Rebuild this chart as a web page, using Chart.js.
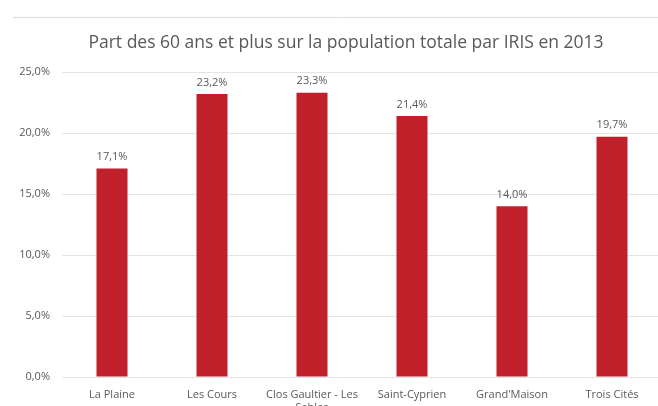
<!DOCTYPE html>
<html>
<head>
<meta charset="utf-8">
<script src="https://cdn.jsdelivr.net/npm/chart.js@4"></script>
<style>
  html, body { margin: 0; padding: 0; background: #fff; overflow: hidden; }
  #wrap { position: relative; width: 664px; height: 406px; }
</style>
</head>
<body>
<div id="wrap"><canvas id="chart"></canvas></div>
<script>
// ── données ──
const categories = ['La Plaine', 'Les Cours', ['Clos Gaultier - Les', 'Sables'], 'Saint-Cyprien', "Grand'Maison", 'Trois Cités'];
const values = [17.1, 23.2, 23.3, 21.4, 14.0, 19.7];
const titleText = 'Part des 60 ans et plus sur la population totale par IRIS en 2013';

const fmt = (v) => v.toFixed(1).replace('.', ',') + '%';

// ligne grise en haut + titre
const header = {
  id: 'header',
  beforeDraw(chart) {
    const ctx = chart.ctx;
    ctx.save();
    ctx.strokeStyle = '#dcdcdc';
    ctx.lineWidth = 1;
    ctx.beginPath();
    ctx.moveTo(13, 17.5);
    ctx.lineTo(chart.width, 17.5);
    ctx.stroke();
    ctx.font = '17.5px "Open Sans", sans-serif';
    ctx.fillStyle = '#595959';
    ctx.textAlign = 'center';
    ctx.textBaseline = 'middle';
    ctx.fillText(titleText, 346, 43);
    ctx.restore();
  }
};

// étiquettes de valeurs au-dessus des barres
const valueLabels = {
  id: 'valueLabels',
  afterDatasetsDraw(chart) {
    const ctx = chart.ctx;
    const meta = chart.getDatasetMeta(0);
    ctx.save();
    ctx.font = '11px "Open Sans", sans-serif';
    ctx.fillStyle = '#595959';
    ctx.textAlign = 'center';
    ctx.textBaseline = 'bottom';
    meta.data.forEach((bar, i) => {
      ctx.fillText(fmt(values[i]), bar.x, bar.y - 6);
    });
    ctx.restore();
  }
};

new Chart(document.getElementById('chart'), {
  type: 'bar',
  plugins: [header, valueLabels],
  data: {
    labels: categories,
    datasets: [{
      data: values,
      backgroundColor: '#c0202a',
      barPercentage: 0.31,
      categoryPercentage: 1,
    }]
  },
  options: {
    animation: false,
    responsive: true,
    maintainAspectRatio: false,
    layout: { padding: { top: 72, left: 0, right: 2, bottom: 0 } },
    plugins: {
      legend: { display: false },
      tooltip: { enabled: false },
      title: { display: false },
    },
    scales: {
      x: {
        grid: { display: false },
        border: { display: false },
        ticks: {
          color: '#595959',
          font: { family: '"Open Sans", sans-serif', size: 11 },
          maxRotation: 0,
          autoSkip: false,
          padding: 3,
        },
        afterFit: (s) => { s.height = 29; },
      },
      y: {
        min: 0,
        max: 25,
        ticks: {
          stepSize: 5,
          color: '#595959',
          font: { family: '"Open Sans", sans-serif', size: 11 },
          padding: 12,
          callback: (v) => fmt(v),
        },
        grid: { color: '#e4e4e4', drawTicks: false },
        border: { display: false },
        afterFit: (s) => { s.width = 62; },
      }
    }
  }
});
</script>
</body>
</html>
